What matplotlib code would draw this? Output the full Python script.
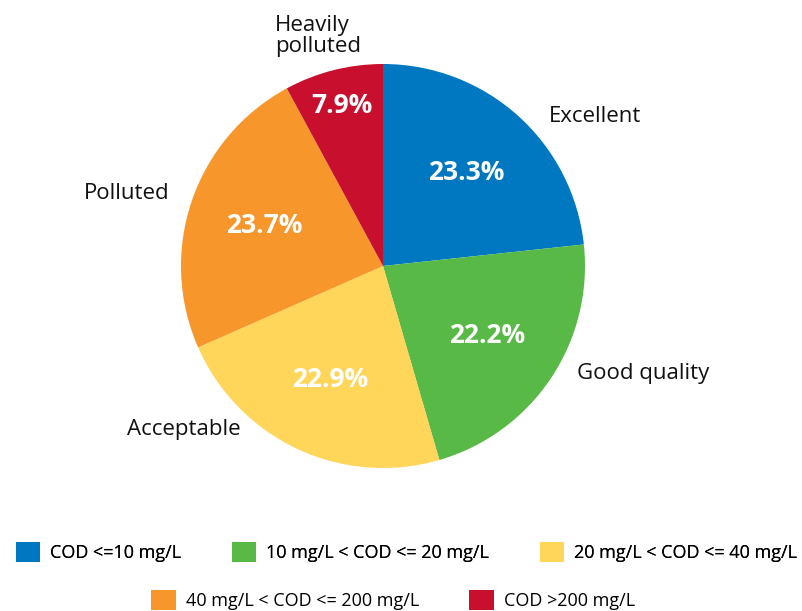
import matplotlib.pyplot as plt
import numpy as np
from matplotlib.patches import Patch

plt.rcParams['font.family'] = ['Open Sans', 'DejaVu Sans']

# data
categories = ['Excellent', 'Good quality', 'Acceptable', 'Polluted', 'Heavily\npolluted']
shares = [23.3, 22.2, 22.9, 23.7, 7.9]
legend_labels = ['COD <=10 mg/L', '10 mg/L < COD <= 20 mg/L', '20 mg/L < COD <= 40 mg/L',
                 '40 mg/L < COD <= 200 mg/L', 'COD >200 mg/L']
colors = ['#0077C1', '#58B947', '#FFD55A', '#F7962B', '#C8102E']

fig = plt.figure(figsize=(8.02, 6.11), dpi=100)
ax = fig.add_axes([0, 0, 1, 1])

wedges, texts, autotexts = ax.pie(shares, colors=colors, startangle=90, counterclock=False,
                                  radius=1, autopct='%.1f%%', pctdistance=0.62,
                                  textprops=dict(color='white', fontsize=19, fontweight='bold'))

# small slice: push percentage outward
w = wedges[4]
mid = np.deg2rad((w.theta1 + w.theta2) / 2)
autotexts[4].set_position((0.82 * np.cos(mid), 0.82 * np.sin(mid)))

# outer category labels
label_pos = [(1.05, 0.74), (1.29, -0.53), (-0.985, -0.81), (-1.27, 0.36), (-0.32, 1.14)]
for name, (x, y) in zip(categories, label_pos):
    ax.text(x, y, name, ha='center', va='center', fontsize=16, color='#111111',
            linespacing=1.0, multialignment='left')

# map data units to pixels: center at (383, 266) px from top-left, radius 202 px
ax.set_xlim(-383 / 202, (802 - 383) / 202)
ax.set_ylim(-(611 - 266) / 202, 266 / 202)
ax.set_aspect('auto')
ax.axis('off')

handles = [Patch(facecolor=c) for c in colors]
leg1 = fig.legend(handles[:3], legend_labels[:3], loc='center', bbox_to_anchor=(0.507, 1 - 552 / 611),
                  ncol=3, frameon=False, fontsize=13, handlelength=1.35, handleheight=1.35,
                  columnspacing=2.8, handletextpad=0.55, borderpad=0, borderaxespad=0)
leg2 = fig.legend(handles[3:], legend_labels[3:], loc='center', bbox_to_anchor=(0.49, 1 - 600 / 611),
                  ncol=2, frameon=False, fontsize=13, handlelength=1.35, handleheight=1.35,
                  columnspacing=2.8, handletextpad=0.55, borderpad=0, borderaxespad=0)
fig.add_artist(leg1)

fig.savefig('out.png', dpi=100)
